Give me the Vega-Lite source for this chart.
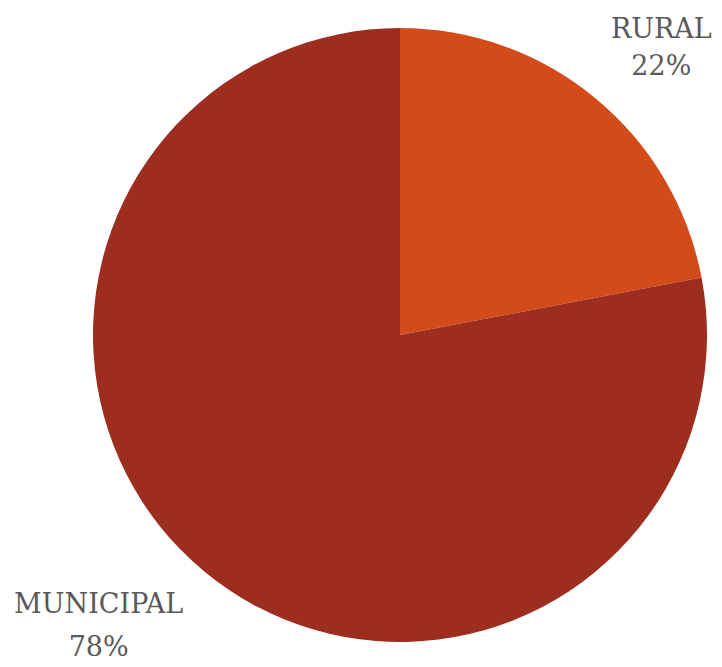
{
  "$schema": "https://vega.github.io/schema/vega-lite/v6.json",
  "autosize": "none",
  "width": 644,
  "height": 670,
  "padding": {"left": 78, "top": 0, "right": 0, "bottom": 0},
  "background": "white",
  "view": {"stroke": null},
  "data": {"values": [
    {"category": "RURAL", "value": 0.22},
    {"category": "MUNICIPAL", "value": 0.78}
  ]},
  "encoding": {
    "theta": {"field": "value", "type": "quantitative", "stack": true},
    "order": {"field": "value", "type": "quantitative", "sort": "ascending"}
  },
  "layer": [
    {
      "mark": {"type": "arc", "outerRadius": 307},
      "encoding": {
        "color": {"field": "category", "type": "nominal", "legend": null,
          "scale": {"domain": ["RURAL", "MUNICIPAL"], "range": ["#D34B19", "#9C2D1F"]}}
      }
    },
    {
      "mark": {"type": "text", "radius": 388, "font": "DejaVu Serif", "fontSize": 27, "fill": "#595959", "baseline": "alphabetic", "align": "center", "dx": 14, "dy": 2},
      "encoding": {"text": {"condition": {"test": "datum.category === 'RURAL'", "field": "category"}, "value": ""}}
    },
    {
      "mark": {"type": "text", "radius": 388, "font": "DejaVu Serif", "fontSize": 27, "fill": "#595959", "baseline": "alphabetic", "align": "center", "dx": 14, "dy": 39},
      "encoding": {"text": {"condition": {"test": "datum.category === 'RURAL'", "field": "value", "format": ".0%"}, "value": ""}}
    },
    {
      "mark": {"type": "text", "radius": 388, "font": "DejaVu Serif", "fontSize": 27, "fill": "#595959", "baseline": "alphabetic", "align": "center", "dx": -54, "dy": -21},
      "encoding": {"text": {"condition": {"test": "datum.category === 'MUNICIPAL'", "field": "category"}, "value": ""}}
    },
    {
      "mark": {"type": "text", "radius": 388, "font": "DejaVu Serif", "fontSize": 27, "fill": "#595959", "baseline": "alphabetic", "align": "center", "dx": -54, "dy": 22},
      "encoding": {"text": {"condition": {"test": "datum.category === 'MUNICIPAL'", "field": "value", "format": ".0%"}, "value": ""}}
    }
  ]
}
